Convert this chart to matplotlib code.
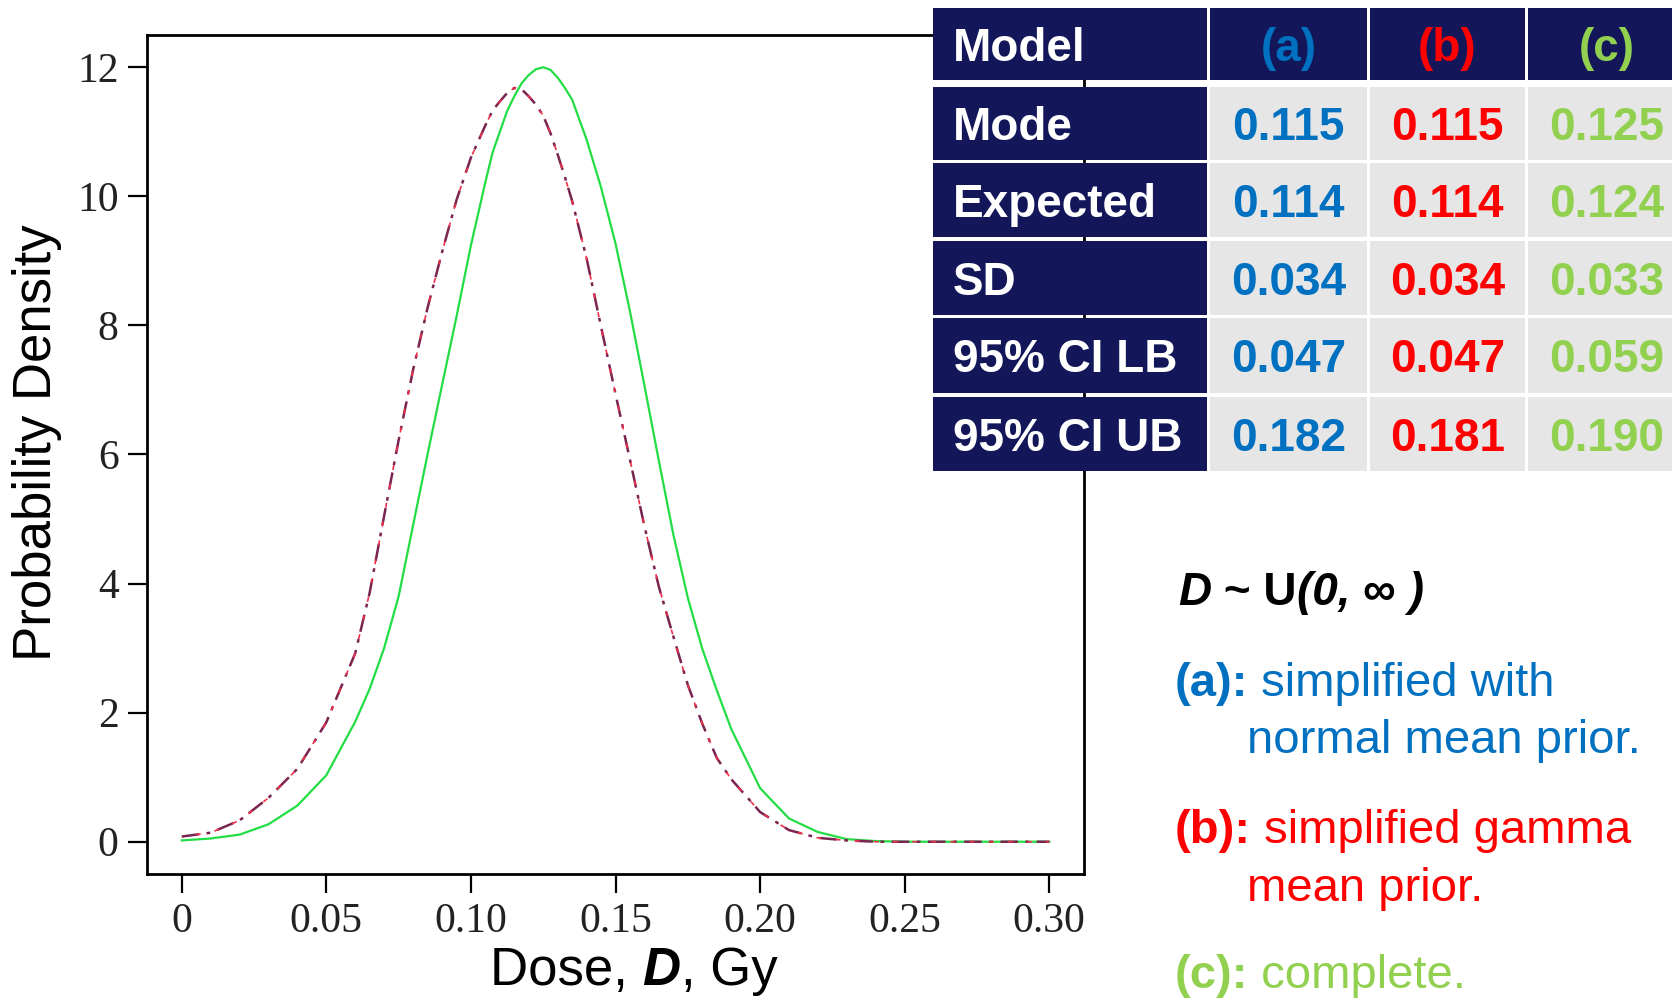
"""
Posterior density of dose D for three models, with summary table.
"""
import matplotlib
matplotlib.use('Agg')
import matplotlib.pyplot as plt
from matplotlib.patches import Rectangle
from matplotlib import font_manager

# ---- data ----
dose = [0.00, 0.01, 0.02, 0.03, 0.04, 0.05,
        0.06, 0.065, 0.07, 0.075, 0.08, 0.085, 0.09, 0.095, 0.10, 0.105,
        0.1075, 0.11, 0.1125, 0.115, 0.1175, 0.12, 0.1225, 0.125, 0.1275,
        0.13, 0.1325, 0.135, 0.14, 0.145, 0.15, 0.155,
        0.16, 0.165, 0.17, 0.175, 0.18, 0.185, 0.19,
        0.20, 0.21, 0.22, 0.23, 0.24, 0.25, 0.26, 0.27, 0.28, 0.29, 0.30]
dens_c = [0.02, 0.05, 0.11, 0.27, 0.56, 1.03,
          1.86, 2.37, 3.0, 3.8, 4.9, 6.0, 7.07, 8.13, 9.24, 10.22,
          10.68, 11.0, 11.32, 11.55, 11.75, 11.88, 11.97, 12.0, 11.96,
          11.84, 11.68, 11.5, 10.88, 10.14, 9.27, 8.22,
          7.07, 5.9, 4.76, 3.78, 2.99, 2.35, 1.75,
          0.83, 0.36, 0.15, 0.04, 0.01, 0.0, 0.0, 0.0, 0.0, 0.0, 0.0]
dens_a = [0.08, 0.14, 0.33, 0.68, 1.13, 1.85,
          2.92, 3.86, 5.05, 6.22, 7.31, 8.27, 9.13, 9.94, 10.6, 11.1,
          11.33, 11.47, 11.6, 11.68, 11.66, 11.55, 11.42, 11.25, 10.98,
          10.65, 10.3, 9.93, 9.04, 7.98, 6.94, 5.92,
          4.89, 3.95, 3.18, 2.43, 1.83, 1.3, 0.97,
          0.46, 0.18, 0.06, 0.02, 0.0, 0.0, 0.0, 0.0, 0.0, 0.0, 0.0]
dens_b = list(dens_a)  # (a) and (b) overlap in the figure

xticks = [0, 0.05, 0.10, 0.15, 0.20, 0.25, 0.30]
xticklabels = ['0', '0.05', '0.10', '0.15', '0.20', '0.25', '0.30']
yticks = [0, 2, 4, 6, 8, 10, 12]

row_labels = ['Mode', 'Expected', 'SD', '95% CI LB', '95% CI UB']
models = ['(a)', '(b)', '(c)']
vals_a = ['0.115', '0.114', '0.034', '0.047', '0.182']
vals_b = ['0.115', '0.114', '0.034', '0.047', '0.181']
vals_c = ['0.125', '0.124', '0.033', '0.059', '0.190']

BLUE, RED, GREEN = '#0070C0', '#FF0000', '#92D050'
NAVY, CELL = '#13175A', '#E6E6E6'

names = {f.name for f in font_manager.fontManager.ttflist}
NARROW = 'Liberation Sans Narrow' if 'Liberation Sans Narrow' in names else 'Liberation Sans'
SANS = ['Liberation Sans', 'DejaVu Sans']
SERIF = 'Liberation Serif'
LAB_FS = 44 if NARROW == 'Liberation Sans Narrow' else 38

W, H = 1672, 1001
fig = plt.figure(figsize=(W / 100, H / 100), dpi=100)
fig.patch.set_facecolor('white')

# ---- main plot ----
ax = fig.add_axes([147 / W, 1 - 874 / H, 937 / W, 839 / H])
ax.plot(dose, dens_c, color='#22DD44', lw=1.6, zorder=3)
ax.plot(dose, dens_a, color='#7A2450', lw=1.8, ls=(0, (7, 3, 1.5, 3)), zorder=4)
ax.plot(dose, dens_b, color='#F0304A', lw=1.2, ls=(3, (3, 8.5)), zorder=4)
ax.set_xlim(-0.012, 0.312)
ax.set_ylim(-0.5, 12.5)
ax.set_xticks(xticks)
ax.set_xticklabels(xticklabels)
ax.set_yticks(yticks)
for s in ax.spines.values():
    s.set_linewidth(2.0)
ax.tick_params(direction='out', length=13.5, width=1.6, pad=7, labelsize=30,
               labelcolor='#222222', top=False, right=False)
for lab in ax.get_xticklabels() + ax.get_yticklabels():
    lab.set_fontfamily(SERIF)

# ---- overlay for table and annotations (pixel coords) ----
ov = fig.add_axes([0, 0, 1, 1], zorder=5)
ov.set_xlim(0, W)
ov.set_ylim(H, 0)
ov.axis('off')

# axis labels
ov.text(37, 443, 'Probability Density', rotation=90, ha='center', va='center',
        fontsize=LAB_FS, family=NARROW, color='black')
t1 = ov.text(490, 985, 'Dose, ', ha='left', va='baseline', fontsize=LAB_FS, family=NARROW)
t2 = ov.annotate('D', xy=(1, 0), xycoords=t1, ha='left', va='bottom', fontsize=LAB_FS,
                 family=NARROW, fontweight='bold', fontstyle='italic')
ov.annotate(', Gy', xy=(1, 0), xycoords=t2, ha='left', va='bottom', fontsize=LAB_FS,
            family=NARROW)

# table
col_x = [(933, 1207), (1210, 1367), (1370, 1525), (1528, 1686)]
row_y = [(8, 80), (87, 160), (163, 237), (241, 315), (318, 393), (397, 471)]
col_colors = [BLUE, RED, GREEN]
col_vals = [vals_a, vals_b, vals_c]

for r, (y0, y1) in enumerate(row_y):
    yc = (y0 + y1) / 2 + 17
    for c, (x0, x1) in enumerate(col_x):
        face = NAVY if (r == 0 or c == 0) else CELL
        ov.add_patch(Rectangle((x0, y0), (x1 - x0) + (20 if c == 3 else 0), y1 - y0,
                               facecolor=face, edgecolor='none', clip_on=False))
        if c == 0:
            txt, col, ha, xx = ('Model' if r == 0 else row_labels[r - 1]), 'white', 'left', 953
        else:
            txt = models[c - 1] if r == 0 else col_vals[c - 1][r - 1]
            col, ha, xx = col_colors[c - 1], 'center', (x0 + x1) / 2
        ov.text(xx, yc, txt, ha=ha, va='baseline', color=col, fontsize=33,
                fontweight='bold', family=SANS)

# distribution note
p1 = ov.text(1178, 605, 'D', ha='left', va='baseline', fontsize=33,
             fontweight='bold', fontstyle='italic', family=SANS)
p2 = ov.annotate(' ~ U', xy=(1, 0), xycoords=p1, ha='left', va='bottom', fontsize=33,
                 fontweight='bold', family=SANS)
p3 = ov.annotate('(0, ', xy=(1, 0), xycoords=p2, ha='left', va='bottom', fontsize=33,
                 fontweight='bold', fontstyle='italic', family=SANS)
p4 = ov.annotate('\u221e', xy=(1, 0), xycoords=p3, ha='left', va='bottom', fontsize=33,
                 fontweight='bold', family=SANS)
ov.annotate(' )', xy=(1, 0), xycoords=p4, ha='left', va='bottom', fontsize=33,
            fontweight='bold', fontstyle='italic', family=SANS)

# model descriptions
notes = [('(a):', ' simplified with', 'normal mean prior.', BLUE, 696, 753),
         ('(b):', ' simplified gamma', 'mean prior.', RED, 843, 901),
         ('(c):', ' complete.', None, GREEN, 988, None)]
for tag, first, second, col, yb1, yb2 in notes:
    a = ov.text(1175, yb1, tag, ha='left', va='baseline', color=col, fontsize=34,
                fontweight='bold', family=SANS)
    ov.annotate(first, xy=(1, 0), xycoords=a, ha='left', va='bottom', color=col,
                fontsize=34, family=SANS)
    if second:
        ov.text(1247, yb2, second, ha='left', va='baseline', color=col, fontsize=34,
                family=SANS)

fig.savefig('out.png', dpi=100, facecolor='white')
